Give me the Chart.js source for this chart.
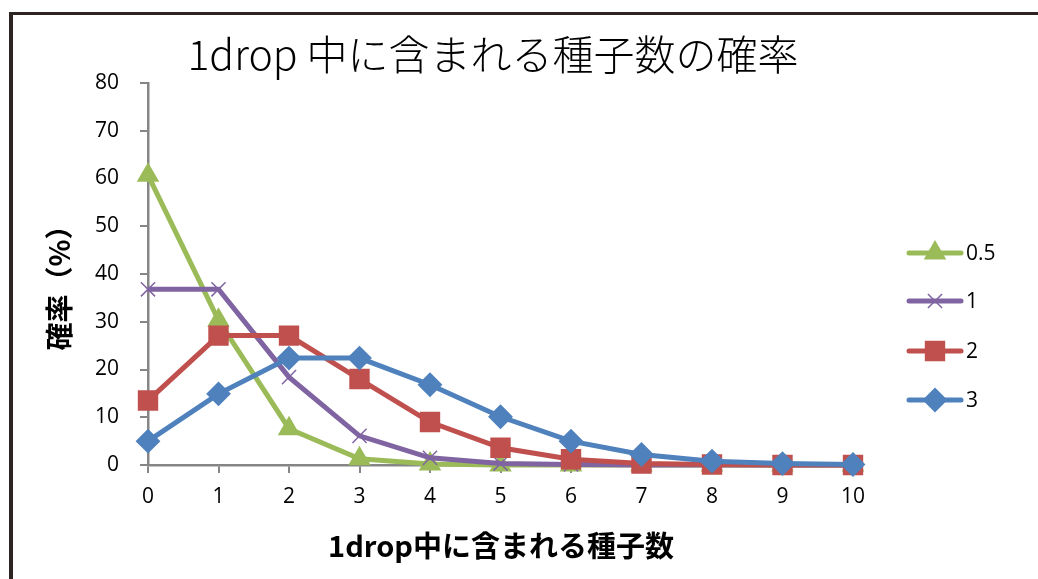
<!DOCTYPE html>
<html>
<head>
<meta charset="utf-8">
<script src="https://cdn.jsdelivr.net/npm/chart.js@4"></script>
<style>
  html, body { margin:0; padding:0; background:#fff; overflow:hidden; }
  #wrap { position:relative; width:1038px; height:579px; }
</style>
</head>
<body>
<div id="wrap"><canvas id="c" width="1038" height="579"></canvas></div>
<script>
// ---- data ----
const categories = ['0','1','2','3','4','5','6','7','8','9','10'];
const seriesNames = ['0.5', '1', '2', '3'];
const values05 = [60.7, 30.3, 7.6, 1.3, 0.2, 0.0, 0.0, 0.0, 0.0, 0.0, 0.0];
const values1  = [36.8, 36.8, 18.4, 6.1, 1.5, 0.3, 0.1, 0.0, 0.0, 0.0, 0.0];
const values2  = [13.5, 27.1, 27.1, 18.0, 9.0, 3.6, 1.2, 0.3, 0.1, 0.0, 0.0];
const values3  = [5.0, 14.9, 22.4, 22.4, 16.8, 10.1, 5.0, 2.2, 0.8, 0.3, 0.1];
const yTicks = [0, 10, 20, 30, 40, 50, 60, 70, 80];

const chartTitle = '1drop 中に含まれる種子数の確率';
const xTitle = '1drop中に含まれる種子数';
const yTitle = '確率（%）';

const colors = ['#9BBB59', '#8064A2', '#C0504D', '#4F81BD'];
const styles = [
  {pointStyle:'triangle', radius:11, bw:2},
  {pointStyle:'crossRot', radius:10, bw:1.5},
  {pointStyle:'rect', radius:13, bw:2},
  {pointStyle:'rectRot', radius:11, bw:2}
];
const allValues = [values05, values1, values2, values3];

const FONT = '"Noto Sans CJK JP", "Noto Sans", sans-serif';
const TICKFONT = '"Open Sans", "Noto Sans", sans-serif';

const datasets = allValues.map((vals, i) => ({
  label: seriesNames[i],
  data: vals,
  borderColor: colors[i],
  backgroundColor: colors[i],
  borderWidth: 5,
  pointStyle: styles[i].pointStyle,
  pointRadius: styles[i].radius,
  pointHoverRadius: styles[i].radius,
  pointBorderWidth: styles[i].bw,
  pointBorderColor: colors[i],
  pointBackgroundColor: colors[i],
  tension: 0,
  clip: false,
  order: 4 - i
}));

const decor = {
  id: 'decor',
  beforeDraw(chart) {
    const ctx = chart.ctx;
    ctx.save();
    ctx.fillStyle = '#fff';
    ctx.fillRect(0, 0, chart.width, chart.height);
    ctx.fillStyle = '#2d2423';
    ctx.fillRect(9, 12, 4, chart.height);
    ctx.fillRect(9, 12, chart.width, 3);
    ctx.restore();
  },
  afterDraw(chart) {
    const ctx = chart.ctx;
    ctx.save();
    // title
    ctx.fillStyle = '#000';
    ctx.textAlign = 'center';
    ctx.textBaseline = 'middle';
    ctx.font = '300 41px ' + FONT;
    ctx.fillText(chartTitle, 493, 54);
    // x title
    ctx.font = 'bold 29px ' + FONT;
    ctx.fillText(xTitle, 501, 546);
    // y title
    ctx.save();
    ctx.translate(59, 281);
    ctx.rotate(-Math.PI / 2);
    ctx.font = 'bold 28px ' + FONT;
    ctx.fillText(yTitle, 0, 0);
    ctx.restore();
    // legend
    const ys = [253, 301, 351, 400];
    ctx.font = '21px ' + TICKFONT;
    ctx.textAlign = 'left';
    seriesNames.forEach((name, i) => {
      const y = ys[i];
      ctx.strokeStyle = colors[i];
      ctx.lineWidth = 5;
      ctx.lineCap = 'round';
      ctx.beginPath();
      ctx.moveTo(909, y);
      ctx.lineTo(961, y);
      ctx.stroke();
      ctx.lineCap = 'butt';
      ctx.fillStyle = colors[i];
      ctx.strokeStyle = colors[i];
      ctx.lineWidth = styles[i].bw;
      Chart.helpers.drawPoint(ctx, {pointStyle: styles[i].pointStyle, radius: styles[i].radius, rotation: 0, borderWidth: styles[i].bw}, 935, y);
      ctx.fillStyle = '#000';
      ctx.fillText(name, 966, y + 1);
    });
    ctx.restore();
  }
};

new Chart(document.getElementById('c'), {
  type: 'line',
  data: { labels: categories, datasets },
  options: {
    responsive: false,
    animation: false,
    devicePixelRatio: 1,
    layout: { padding: { left: 0, top: 83, right: 185, bottom: 0 } },
    plugins: { legend: { display: false }, title: { display: false }, tooltip: { enabled: false } },
    scales: {
      x: {
        type: 'category',
        offset: false,
        grid: { drawOnChartArea: false, color: '#868686', lineWidth: 2, tickLength: 8 },
        border: { color: '#868686', width: 2.5 },
        ticks: { color: '#000', font: { size: 21, family: TICKFONT }, padding: 11, maxRotation: 0, autoSkip: false },
        afterFit(scale) { scale.height = 114; }
      },
      y: {
        min: 0, max: 80,
        afterBuildTicks(scale) { scale.ticks = yTicks.map(v => ({ value: v })); },
        grid: { drawOnChartArea: false, color: '#868686', lineWidth: 2, tickLength: 8 },
        border: { color: '#868686', width: 2.5 },
        ticks: { color: '#000', font: { size: 21, family: TICKFONT }, padding: 21 },
        afterFit(scale) { scale.width = 148; }
      }
    }
  },
  plugins: [decor]
});
</script>
</body>
</html>
